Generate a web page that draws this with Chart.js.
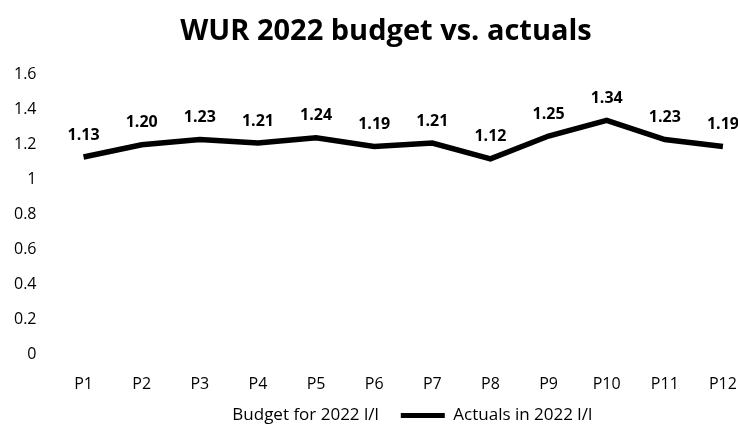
<!DOCTYPE html>
<html>
<head>
<meta charset="utf-8">
<script src="https://cdn.jsdelivr.net/npm/chart.js@4/dist/chart.umd.min.js"></script>
<style>
  html, body { margin: 0; padding: 0; background: #fff; overflow: hidden; }
  #wrap { width: 772px; height: 432px; position: relative; }
</style>
</head>
<body>
<div id="wrap"><canvas id="wurChart"></canvas></div>
<script>
// DATA
const periods = ['P1', 'P2', 'P3', 'P4', 'P5', 'P6', 'P7', 'P8', 'P9', 'P10', 'P11', 'P12']
const budget2022 = [null, null, null, null, null, null, null, null, null, null, null, null]
const actuals2022 = [1.13, 1.20, 1.23, 1.21, 1.24, 1.19, 1.21, 1.12, 1.25, 1.34, 1.23, 1.19]
const yTicks = [0, 0.2, 0.4, 0.6, 0.8, 1, 1.2, 1.4, 1.6]

const fontFamily = "'Open Sans', sans-serif"

// value labels above the actuals line
const valueLabels = {
    id: 'valueLabels',
    afterDatasetsDraw(chart) {
        const ctx = chart.ctx
        const meta = chart.getDatasetMeta(1)
        ctx.save()
        ctx.font = 'bold 16px ' + fontFamily
        ctx.fillStyle = '#000'
        ctx.textAlign = 'center'
        ctx.textBaseline = 'bottom'
        meta.data.forEach((pt, i) => {
            const v = chart.data.datasets[1].data[i]
            ctx.fillText(v.toFixed(2), pt.x, pt.y - 14)
        })
        ctx.restore()
    }
}

// wide gap between legend items without making the legend box taller
const legendGap = {
    id: 'legendGap',
    beforeLayout(chart) {
        const lg = chart.legend
        if (!lg || lg._gapPatched) return
        lg._gapPatched = true
        const fit = lg.fit
        lg.fit = function () { fit.call(this); this.height -= 23 }
        const draw = lg.draw
        lg.draw = function () { this.top -= 21; draw.call(this); this.top += 21 }
    }
}

const dataChart = {
    labels: periods,
    datasets: [{
        label: 'Budget for 2022 l/l',
        data: budget2022,
        borderColor: 'rgba(0,0,0,0)',
        backgroundColor: 'rgba(0,0,0,0)',
        pointRadius: 0,
    }, {
        label: 'Actuals in 2022 l/l',
        data: actuals2022,
        borderColor: '#000',
        backgroundColor: '#000',
        borderWidth: 5.5,
        pointRadius: 0,
        tension: 0,
    }],
}

const configChart = {
    type: 'line',
    data: dataChart,
    options: {
        responsive: true,
        maintainAspectRatio: false,
        animation: false,
        layout: { padding: { left: 4, right: 4, top: 10, bottom: 0 } },
        scales: {
            x: {
                offset: true,
                grid: { display: false },
                border: { display: false },
                ticks: { color: '#000', font: { family: fontFamily, size: 16 }, padding: 12 }
            },
            y: {
                min: 0,
                max: 1.6,
                afterBuildTicks: axis => { axis.ticks = yTicks.map(v => ({ value: v })) },
                grid: { display: false },
                border: { display: false },
                ticks: {
                    color: '#000',
                    font: { family: fontFamily, size: 16 },
                    padding: 10,
                    callback: v => String(v)
                }
            },
            // empty spacer on the right so the plot runs past the window edge
            spacer: {
                type: 'linear',
                position: 'right',
                display: true,
                grid: { display: false },
                border: { display: false },
                ticks: { display: false },
                afterFit: axis => { axis.width = 16 }
            }
        },
        plugins: {
            title: {
                display: true,
                text: 'WUR 2022 budget vs. actuals',
                color: '#000',
                font: { family: fontFamily, size: 29, weight: 'bold' },
                padding: { top: 4, bottom: 26 }
            },
            legend: {
                position: 'bottom',
                labels: {
                    color: '#000',
                    font: { family: fontFamily, size: 17 },
                    boxWidth: 44,
                    boxHeight: 5,
                    padding: 22,
                    generateLabels: chart => chart.data.datasets.map((ds, i) => ({
                        text: ds.label,
                        fillStyle: ds.backgroundColor,
                        strokeStyle: ds.backgroundColor,
                        lineWidth: 0,
                        datasetIndex: i,
                        fontColor: '#000'
                    }))
                }
            },
            tooltip: { enabled: false }
        }
    },
    plugins: [valueLabels, legendGap]
}

const wurChart = new Chart(
    document.getElementById('wurChart'),
    configChart
)
</script>
</body>
</html>
